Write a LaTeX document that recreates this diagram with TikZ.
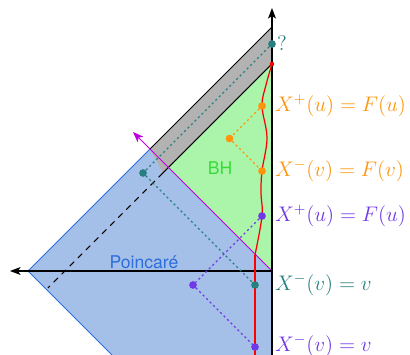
\RequirePackage{fix-cm}
\documentclass[tikz,border=0pt]{standalone}
\usepackage{fontspec}
\newfontfamily\helv{TeX Gyre Heros}
\usetikzlibrary{arrows.meta}
\definecolor{tealc}{RGB}{38,128,128}
\definecolor{orangec}{RGB}{255,148,10}
\definecolor{purplec}{RGB}{112,56,230}
\definecolor{magc}{RGB}{190,0,225}
\definecolor{bhfill}{RGB}{170,245,170}
\definecolor{bhtext}{RGB}{55,220,55}
\definecolor{pfill}{RGB}{165,192,232}
\definecolor{pline}{RGB}{45,110,220}
\tikzset{circ/.style = {fill=#1, circle, inner sep = 0, minimum size = 4.2}}
\tikzset{dots/.style = {#1, line width=0.7pt, dash pattern=on 1.2pt off 1.6pt}}
\tikzset{lab/.style = {anchor=west, inner sep=1pt, font=\fontsize{12}{14}\selectfont}}
\tikzset{tip/.style = {-{Stealth[length=6pt, width=4.5pt, inset=1.5pt]}}}

\begin{document}
\begin{tikzpicture}[x=0.02cm, y=0.02cm]

      \useasboundingbox (-272,-84) rectangle (138,271);

      \def\L{244}
      \coordinate (O)      at (0,0);
      \coordinate (left)   at (-\L,0);
      \coordinate (top)    at (0,\L);
      \coordinate (mid)    at (-\L/2,\L/2);
      \coordinate (bl)     at (-160,-84);
      \coordinate (br)     at (0,-84);
      \coordinate (hor)    at (0,207);
      \coordinate (hmeet)  at (-103.5,103.5);
      \coordinate (hcut)   at (-109,98);
      \coordinate (hend)   at (-224,-17);

      \fill[pfill] (left) -- (mid) -- (O) -- (br) -- (bl) -- cycle;
      \fill[bhfill] (O) -- (hor) -- (hmeet) -- cycle;
      \fill[black!30] (hor) -- (top) -- (mid) -- (hcut) -- cycle;

      \draw[pline, line width=0.5pt] (bl) -- (left) -- (mid);
      \draw[line width=0.5pt] (mid) -- (top);
      \draw[line width=0.6pt] (hor) -- (hcut);
      \draw[line width=0.6pt, dash pattern=on 3.5pt off 3pt] (hcut) -- (hend);
      \draw[magc, line width=0.5pt, tip] (O) -- (-139,139);

      % axes
      \draw[line width=0.6pt, tip] (br) -- (0,263);
      \draw[line width=0.6pt, tip] (O) -- (-262,0);

      \node[circ=tealc]   (q)  at (0,227)      {};
      \node[circ=tealc]   (qa) at (-129,98)    {};
      \node[circ=tealc]   (qb) at (-17,-14)    {};
      \node[circ=orangec] (f1) at (-10,165)    {};
      \node[circ=orangec] (fa) at (-42.5,132.5) {};
      \node[circ=orangec] (f2) at (-10,100)    {};
      \node[circ=purplec] (g1) at (-10,55)     {};
      \node[circ=purplec] (ga) at (-79,-14)    {};
      \node[circ=purplec] (g2) at (-17,-76)    {};

      \draw[dots=tealc]   (q) -- (qa) -- (qb);
      \draw[dots=orangec] (f1) -- (fa) -- (f2);
      \draw[dots=purplec] (g1) -- (ga) -- (g2);

      \draw[red, line width=0.7pt] (-17,-84) -- (-17,16);
      \draw[red, line width=0.7pt] plot[smooth, tension=0.6] coordinates
        {(-17,16) (-10,55) (-11,78) (-10,100) (-5,133) (-10,165) (-6,186) (0,207)};

      \node[circ=tealc]   at (q)  {};
      \node[circ=tealc]   at (qa) {};
      \node[circ=tealc]   at (qb) {};
      \node[circ=orangec] at (f1) {};
      \node[circ=orangec] at (fa) {};
      \node[circ=orangec] at (f2) {};
      \node[circ=purplec] at (g1) {};
      \node[circ=purplec] at (ga) {};
      \node[circ=purplec] at (g2) {};
      \node[circ=red, minimum size=2.6] (h) at (hor) {};

      \node[lab, text=tealc]   (qlab)  at (3,228)  {?};
      \node[lab, text=orangec] (f1lab) at (1,165)  {$X^+(u) = F(u)$};
      \node[lab, text=orangec] (f2lab) at (1,100)  {$X^-(v) = F(v)$};
      \node[lab, text=purplec] (g1lab) at (1,55)   {$X^+(u) = F(u)$};
      \node[lab, text=tealc]   (qblab) at (1,-14)  {$X^-(v) = v$};
      \node[lab, text=purplec] (g2lab) at (1,-75)  {$X^-(v) = v$};

      \node[text=bhtext, font=\helv] (bh)   at (-52,102.5) {BH};
      \node[text=pline, font=\helv]  (poin) at (-128,8.5)  {Poincaré};

    \end{tikzpicture}
\end{document}
